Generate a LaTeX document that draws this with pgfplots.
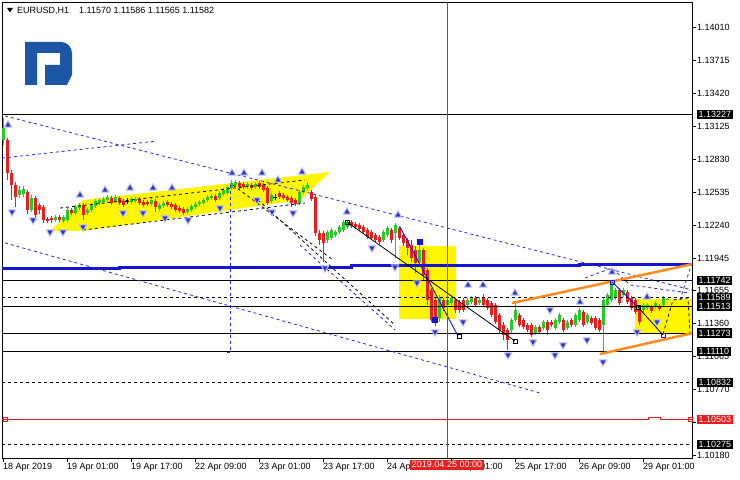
\documentclass[border=0pt]{standalone}
\usepackage{pgfplots}
\pgfplotsset{compat=1.18}
\usepackage{pgfplotstable}
\usepackage{fontspec}
\setmainfont{Liberation Sans}

\definecolor{bullc}{RGB}{40,200,40}
\definecolor{bearc}{RGB}{230,30,30}
\definecolor{lvlblue}{RGB}{20,20,210}
\definecolor{dashblue}{RGB}{40,40,220}
\definecolor{chan}{RGB}{255,140,30}
\definecolor{zone}{RGB}{255,245,0}
\definecolor{logoblue}{RGB}{28,86,164}
\definecolor{arrowblue}{RGB}{45,55,205}
\newcommand{\lbl}{\fontsize{9bp}{10bp}\selectfont}

% EURUSD H1 candles: bar index, open, high, low, close
\pgfplotstableread{
i o h l c
0 1.12999 1.13196 1.12955 1.13107
4 1.12507 1.12588 1.12480 1.12552
5 1.12516 1.12588 1.12489 1.12562
7 1.12374 1.12507 1.12356 1.12480
13 1.12284 1.12329 1.12266 1.12311
15 1.12275 1.12329 1.12257 1.12311
16 1.12284 1.12391 1.12266 1.12374
18 1.12347 1.12418 1.12329 1.12400
19 1.12391 1.12436 1.12374 1.12418
21 1.12347 1.12391 1.12329 1.12374
22 1.12374 1.12436 1.12356 1.12418
23 1.12409 1.12471 1.12391 1.12454
24 1.12436 1.12480 1.12418 1.12463
25 1.12445 1.12489 1.12427 1.12471
26 1.12463 1.12507 1.12445 1.12489
28 1.12454 1.12507 1.12436 1.12489
32 1.12445 1.12489 1.12427 1.12471
33 1.12454 1.12489 1.12436 1.12471
37 1.12427 1.12480 1.12409 1.12463
39 1.12382 1.12436 1.12365 1.12418
40 1.12409 1.12454 1.12391 1.12436
46 1.12356 1.12400 1.12338 1.12382
47 1.12374 1.12427 1.12356 1.12409
48 1.12400 1.12445 1.12382 1.12427
49 1.12427 1.12463 1.12409 1.12445
50 1.12436 1.12480 1.12418 1.12463
51 1.12463 1.12507 1.12445 1.12489
52 1.12480 1.12516 1.12463 1.12498
54 1.12480 1.12543 1.12463 1.12525
55 1.12516 1.12571 1.12498 1.12552
56 1.12525 1.12597 1.12507 1.12580
57 1.12571 1.12642 1.12552 1.12615
58 1.12597 1.12642 1.12580 1.12624
61 1.12580 1.12624 1.12562 1.12606
63 1.12580 1.12624 1.12562 1.12606
67 1.12454 1.12525 1.12436 1.12507
74 1.12436 1.12552 1.12418 1.12534
75 1.12534 1.12597 1.12516 1.12580
76 1.12571 1.12624 1.12552 1.12597
81 1.12105 1.12195 1.12078 1.12177
82 1.12123 1.12213 1.12105 1.12195
83 1.12150 1.12195 1.12132 1.12177
84 1.12177 1.12240 1.12159 1.12222
85 1.12195 1.12284 1.12177 1.12266
86 1.12222 1.12284 1.12204 1.12266
95 1.12105 1.12195 1.12087 1.12177
96 1.12150 1.12231 1.12132 1.12213
98 1.12168 1.12257 1.11944 1.12240
104 1.11909 1.12105 1.11873 1.12016
109 1.11408 1.11613 1.11372 1.11587
111 1.11524 1.11596 1.11506 1.11569
112 1.11542 1.11604 1.11524 1.11587
116 1.11524 1.11587 1.11506 1.11569
117 1.11551 1.11604 1.11533 1.11587
119 1.11542 1.11596 1.11524 1.11569
127 1.11301 1.11408 1.11274 1.11390
128 1.11390 1.11542 1.11372 1.11480
133 1.11274 1.11345 1.11256 1.11328
135 1.11319 1.11390 1.11301 1.11372
138 1.11319 1.11408 1.11301 1.11390
139 1.11372 1.11453 1.11354 1.11435
141 1.11319 1.11390 1.11301 1.11372
143 1.11345 1.11453 1.11328 1.11435
144 1.11390 1.11498 1.11372 1.11480
146 1.11372 1.11453 1.11354 1.11435
150 1.11345 1.11587 1.11095 1.11569
151 1.11524 1.11631 1.11506 1.11613
152 1.11569 1.11748 1.11551 1.11703
153 1.11587 1.11676 1.11569 1.11658
155 1.11613 1.11676 1.11596 1.11658
160 1.11480 1.11542 1.11462 1.11524
161 1.11498 1.11542 1.11480 1.11524
163 1.11506 1.11560 1.11489 1.11542
165 1.11524 1.11604 1.11506 1.11587
166 1.11570 1.11586 1.11565 1.11582
}\bulltab

\pgfplotstableread{
i o h l c
1 1.12999 1.13017 1.12642 1.12704
2 1.12704 1.12731 1.12463 1.12597
3 1.12597 1.12624 1.12400 1.12489
6 1.12534 1.12552 1.12338 1.12374
8 1.12480 1.12498 1.12302 1.12329
9 1.12418 1.12436 1.12338 1.12374
10 1.12400 1.12418 1.12257 1.12284
11 1.12293 1.12311 1.12257 1.12275
12 1.12302 1.12320 1.12257 1.12284
14 1.12311 1.12329 1.12266 1.12284
17 1.12374 1.12391 1.12329 1.12347
20 1.12418 1.12436 1.12284 1.12329
27 1.12480 1.12498 1.12418 1.12436
29 1.12480 1.12498 1.12418 1.12436
30 1.12454 1.12471 1.12400 1.12418
34 1.12471 1.12489 1.12418 1.12436
35 1.12445 1.12463 1.12400 1.12418
36 1.12445 1.12463 1.12409 1.12427
38 1.12454 1.12471 1.12356 1.12400
41 1.12445 1.12463 1.12400 1.12418
42 1.12427 1.12445 1.12382 1.12400
43 1.12418 1.12436 1.12356 1.12374
44 1.12391 1.12409 1.12347 1.12365
45 1.12382 1.12400 1.12329 1.12347
53 1.12498 1.12516 1.12445 1.12463
59 1.12615 1.12633 1.12562 1.12580
60 1.12606 1.12624 1.12562 1.12580
62 1.12597 1.12615 1.12552 1.12571
64 1.12615 1.12633 1.12562 1.12580
65 1.12597 1.12615 1.12534 1.12552
66 1.12571 1.12588 1.12418 1.12436
69 1.12525 1.12543 1.12471 1.12489
70 1.12507 1.12525 1.12463 1.12480
71 1.12489 1.12507 1.12445 1.12463
72 1.12480 1.12498 1.12400 1.12436
73 1.12463 1.12480 1.12409 1.12427
77 1.12534 1.12552 1.12454 1.12471
78 1.12489 1.12507 1.12141 1.12168
79 1.12168 1.12195 1.12060 1.12105
80 1.12168 1.12186 1.11909 1.12078
87 1.12266 1.12284 1.12213 1.12231
88 1.12248 1.12266 1.12204 1.12222
89 1.12240 1.12257 1.12186 1.12204
90 1.12222 1.12240 1.12159 1.12177
91 1.12195 1.12213 1.12114 1.12132
92 1.12177 1.12195 1.12105 1.12123
93 1.12150 1.12168 1.12087 1.12105
94 1.12132 1.12150 1.12069 1.12087
97 1.12195 1.12213 1.12078 1.12105
99 1.12213 1.12231 1.12105 1.12123
100 1.12150 1.12168 1.12051 1.12078
101 1.12105 1.12123 1.11971 1.12034
102 1.12060 1.12105 1.11909 1.11944
103 1.12016 1.12051 1.11810 1.11900
105 1.12016 1.12034 1.11748 1.11792
106 1.11837 1.11855 1.11524 1.11569
107 1.11658 1.11676 1.11372 1.11390
108 1.11569 1.11587 1.11337 1.11372
110 1.11569 1.11587 1.11471 1.11498
113 1.11569 1.11587 1.11453 1.11480
114 1.11551 1.11569 1.11453 1.11480
115 1.11569 1.11587 1.11462 1.11480
118 1.11587 1.11604 1.11506 1.11524
120 1.11587 1.11622 1.11506 1.11524
121 1.11569 1.11587 1.11480 1.11498
122 1.11542 1.11560 1.11417 1.11435
123 1.11524 1.11542 1.11354 1.11372
124 1.11435 1.11453 1.11274 1.11301
125 1.11345 1.11372 1.11211 1.11256
126 1.11301 1.11319 1.11122 1.11211
129 1.11435 1.11453 1.11328 1.11345
130 1.11390 1.11408 1.11310 1.11328
131 1.11345 1.11363 1.11283 1.11301
132 1.11345 1.11363 1.11238 1.11256
134 1.11328 1.11345 1.11265 1.11283
136 1.11372 1.11390 1.11256 1.11301
137 1.11372 1.11390 1.11328 1.11345
140 1.11390 1.11408 1.11283 1.11301
142 1.11390 1.11408 1.11328 1.11345
145 1.11462 1.11480 1.11328 1.11345
147 1.11408 1.11426 1.11345 1.11363
148 1.11408 1.11426 1.11301 1.11319
149 1.11390 1.11408 1.11283 1.11301
154 1.11658 1.11676 1.11524 1.11542
156 1.11640 1.11658 1.11533 1.11551
157 1.11587 1.11604 1.11480 1.11498
158 1.11569 1.11587 1.11444 1.11462
159 1.11480 1.11524 1.11345 1.11372
162 1.11506 1.11524 1.11453 1.11471
164 1.11515 1.11533 1.11471 1.11489
}\beartab

\pgfplotstableread{
i o h l c
31 1.12454 1.12480 1.12427 1.12454
68 1.12489 1.12516 1.12463 1.12489
}\dojitab

\pgfplotsset{
  wick/.style={draw=none, mark=none, forget plot,
    error bars/y dir=both, error bars/y explicit, error bars/error mark=none,
    error bars/error bar style={draw=#1, line width=1bp}},
  body/.style={draw=none, mark=none, forget plot,
    error bars/y dir=both, error bars/y explicit, error bars/error mark=none,
    error bars/error bar style={draw=#1, line width=3bp, line cap=butt}},
}
\tikzset{
  bdash/.style={dashblue, line width=0.8bp, dash pattern=on 3bp off 3bp},
  kdash/.style={black, line width=0.8bp, dash pattern=on 3bp off 3bp},
  lvl/.style={black, line width=0.8bp},
  hl/.style={anchor=west, xshift=5bp, fill=black, text=white, inner sep=1.5bp, font=\lbl},
}

\begin{document}
\begin{tikzpicture}
\path[use as bounding box, fill=white] (-2bp,-22bp) rectangle (738bp,458bp);
\begin{axis}[
  at={(0,0)}, anchor=south west,
  scale only axis, width=690bp, height=456bp,
  xmin=-0.25, xmax=172.25, ymin=1.101565, ymax=1.142331,
  clip mode=individual,
  axis line style={black, line width=0.8bp},
  tick style={black, line width=0.8bp},
  tick align=outside, major tick length=4bp,
  xtick pos=bottom, ytick pos=right, yticklabel pos=right,
  xtick={0,16,32,48,64,80,96,112,128,144,160},
  xticklabels={18 Apr 2019, 19 Apr 01:00, 19 Apr 17:00, 22 Apr 09:00, 23 Apr 01:00, 23 Apr 17:00, 24 Apr 09:00, 25 Apr 01:00, 25 Apr 17:00, 26 Apr 09:00, 29 Apr 01:00},
  ytick={1.14010,1.13715,1.13420,1.13125,1.12830,1.12535,1.12240,1.11945,1.11655,1.11360,1.11065,1.10770,1.10475,1.10180},
  yticklabels={1.14010,1.13715,1.13420,1.13125,1.12830,1.12535,1.12240,1.11945,1.11655,1.11360,1.11065,1.10770,,1.10180},
  ticklabel style={font=\lbl},
  xticklabel style={anchor=north west, inner sep=0pt, xshift=0bp, yshift=-1bp},
  yticklabel style={anchor=west, inner sep=0pt, xshift=1bp},
]
% shaded zones
\addplot[fill=zone, draw=none, forget plot] coordinates {(11.75,1.12186) (20,1.12463) (81.75,1.12713) (74.25,1.12463) (20,1.12186)} -- cycle;
\addplot[fill=zone, draw=none, forget plot] coordinates {(99,1.12051) (113.25,1.12051) (113.25,1.11399) (99,1.11399)} -- cycle;
\addplot[fill=zone, draw=none, forget plot] coordinates {(158,1.11578) (172.25,1.11578) (172.25,1.11274) (158,1.11274)} -- cycle;

% candles
\addplot[wick=bullc] table[x=i, y=c, y error plus expr=\thisrow{h}-\thisrow{c}, y error minus expr=\thisrow{c}-\thisrow{l}] {\bulltab};
\addplot[body=bullc] table[x=i, y expr=(\thisrow{o}+\thisrow{c})/2, y error expr=abs(\thisrow{c}-\thisrow{o})/2] {\bulltab};
\addplot[wick=bearc] table[x=i, y=c, y error plus expr=\thisrow{h}-\thisrow{c}, y error minus expr=\thisrow{c}-\thisrow{l}] {\beartab};
\addplot[body=bearc] table[x=i, y expr=(\thisrow{o}+\thisrow{c})/2, y error expr=abs(\thisrow{c}-\thisrow{o})/2] {\beartab};
\addplot[wick=black] table[x=i, y=c, y error plus expr=\thisrow{h}-\thisrow{c}, y error minus expr=\thisrow{c}-\thisrow{l}] {\dojitab};
\addplot[only marks, mark=-, mark size=1.6bp, black, line width=1bp] table[x=i, y=c] {\dojitab};

% horizontal levels
\addplot[lvl] coordinates {(-0.25,1.13227) (172.25,1.13227)};
\addplot[lvl] coordinates {(-0.25,1.11742) (172.25,1.11742)};
\addplot[kdash] coordinates {(-0.25,1.11589) (172.25,1.11589)};
\addplot[lvl] coordinates {(-0.25,1.11513) (172.25,1.11513)};
\addplot[lvl] coordinates {(-0.25,1.11273) (172.25,1.11273)};
\addplot[lvl] coordinates {(-0.25,1.11110) (172.25,1.11110)};
\addplot[kdash] coordinates {(-0.25,1.10832) (172.25,1.10832)};
\addplot[kdash] coordinates {(-0.25,1.10275) (172.25,1.10275)};
\addplot[bearc, line width=0.8bp] coordinates {(-0.25,1.10503) (161.25,1.10503) (161.25,1.10523) (164.25,1.10523) (164.25,1.10503) (172.25,1.10503)};
\addplot[only marks, mark=square, mark size=2bp, bearc, line width=0.8bp] coordinates {(0.5,1.10503) (171.75,1.10503)};
\addplot[lvlblue, line width=3bp] coordinates {(-0.25,1.11855) (29,1.11855) (29,1.11864) (87,1.11864) (87,1.11873) (144,1.11873) (144,1.11882) (172.25,1.11882)};

% trend lines
\addplot[bdash] coordinates {(0.5,1.13214) (172.25,1.11658)};
\addplot[bdash] coordinates {(-0.25,1.12838) (38.5,1.12990)};
\addplot[bdash] coordinates {(0.5,1.12079) (134.25,1.10738)};
\addplot[bdash] coordinates {(74.25,1.12060) (98,1.11301)};
\addplot[bdash] coordinates {(56.75,1.12597) (56.75,1.11104)};
\addplot[bdash] coordinates {(56,1.11104) (57.5,1.11104)};
\addplot[bdash] coordinates {(145.5,1.11766) (152.25,1.11855) (156.75,1.11703) (171.75,1.11631)};
\addplot[bdash] coordinates {(169.25,1.11569) (172.25,1.11900)};
\addplot[kdash] coordinates {(63.75,1.12463) (98,1.11345)};
\addplot[kdash] coordinates {(57.5,1.12597) (82.5,1.11927)};
\addplot[kdash] coordinates {(14.25,1.12391) (75.5,1.12642)};
\addplot[kdash] coordinates {(20,1.12195) (75.5,1.12436)};
\addplot[kdash] coordinates {(165,1.11265) (167.5,1.11569) (171.25,1.11587) (171.75,1.11274)};
\addplot[chan, line width=2.5bp] coordinates {(127.25,1.11542) (172.5,1.11891)};
\addplot[chan, line width=2.5bp] coordinates {(149.25,1.11086) (172.5,1.11274)};
\addplot[black, line width=0.8bp] coordinates {(86,1.12266) (128,1.11202)};
\addplot[lvlblue, line width=0.9bp] coordinates {(99.25,1.12222) (113.75,1.11247)};
\addplot[lvlblue, line width=0.9bp] coordinates {(152.25,1.11730) (158.75,1.11506)};
\addplot[black, line width=0.8bp] coordinates {(158.75,1.11506) (165,1.11256)};
\addplot[bearc, line width=0.7bp] coordinates {(111,1.101565) (111,1.142331)};

% swing points
\addplot[only marks, mark=square, mark size=2bp, black, line width=0.8bp] coordinates {(86,1.12266) (114,1.11247) (128,1.11202) (158.75,1.11506)};
\addplot[only marks, mark=square, mark size=2bp, lvlblue, line width=0.8bp] coordinates {(152.25,1.11730) (165,1.11256)};
\addplot[only marks, mark=square*, mark size=2.5bp, lvlblue] coordinates {(104.25,1.12087) (108,1.11390)};

% fractal arrows
\addplot[only marks, mark=triangle*, mark size=4.2bp, mark options={fill=arrowblue, draw=arrowblue!30!white, line width=1bp}] coordinates {
(19.25,1.12507) (25.5,1.12552) (31.75,1.12571) (37.5,1.12571) (42.25,1.12571)
(57.25,1.12704) (60.25,1.12704) (64.75,1.12704) (74.75,1.12713) (68.75,1.12642)
(86,1.12356) (98.75,1.12329) (116.25,1.11703) (120,1.11703) (128,1.11631)
(144.25,1.11551) (152.25,1.11819) (161,1.11596) (1.25,1.13134)};
\addplot[only marks, mark=triangle*, mark size=4.2bp, mark options={rotate=180, fill=arrowblue, draw=arrowblue!30!white, line width=1bp}] coordinates {
(2.25,1.12356) (7.5,1.12284) (11.75,1.12177) (15,1.12177) (20,1.12222)
(30,1.12347) (35,1.12347) (40.5,1.12302) (46.25,1.12284) (54.25,1.12391)
(63.5,1.12463) (67.25,1.12356) (72.5,1.12347) (80.5,1.11855) (92.25,1.12034)
(98,1.11864) (103.5,1.11721) (108,1.11283) (115,1.11372) (126.25,1.11077)
(132.5,1.11193) (138,1.11077) (140,1.11167) (146,1.11211) (150,1.11015)
(158.5,1.11283) (163.5,1.11372) (136.75,1.11480)};

% price tags on the scale
\node[hl] at (axis cs:172.25,1.13227) {1.13227};
\node[hl] at (axis cs:172.25,1.11742) {1.11742};
\node[hl] at (axis cs:172.25,1.11589) {1.11589};
\node[hl] at (axis cs:172.25,1.11513) {1.11513};
\node[hl] at (axis cs:172.25,1.11273) {1.11273};
\node[hl] at (axis cs:172.25,1.11110) {1.11110};
\node[hl] at (axis cs:172.25,1.10832) {1.10832};
\node[hl, fill=bearc] at (axis cs:172.25,1.10503) {1.10503};
\node[hl] at (axis cs:172.25,1.10275) {1.10275};
\node[anchor=north, yshift=-2bp, fill=bearc, text=white, inner sep=1.5bp, font=\lbl] at (axis cs:111,1.101565) {2019.04.25 00:00};
\end{axis}

% header and logo
\begin{scope}[shift={(-2bp,458bp)}, x=1bp, y=-1bp]
  \fill[black] (7,8) -- (13,8) -- (10,12.5) -- cycle;
  \node[anchor=west, inner sep=0pt, font=\lbl] at (17,10.5) {EURUSD,H1};
  \node[anchor=west, inner sep=0pt, font=\lbl] at (79,10.5) {1.11570 1.11586 1.11565 1.11582};
  \fill[logoblue] (25,85) -- (25,42) -- (60,42) [rounded corners=11bp] -- (72,42) [sharp corners] -- (72,75) -- (67,85) -- (45,85) -- (45,65) -- (60,65) -- (60,53) -- (37,53) -- (37,85) -- cycle;
\end{scope}
\end{tikzpicture}
\end{document}
